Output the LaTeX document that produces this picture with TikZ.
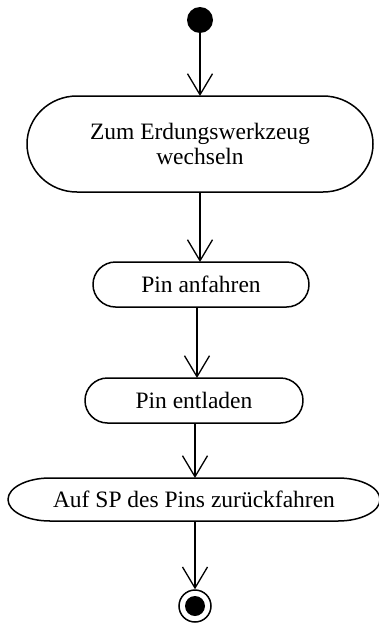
\documentclass[tikz,border=0pt]{standalone}
\usepackage{fontspec}
\setmainfont{Liberation Serif}
\usetikzlibrary{arrows.meta}

% Activity box outline with elliptical ends: node name, x radius, y radius
\newcommand\actoutline[3]{%
  \draw[actline] ([xshift=#2]#1.north west) -- ([xshift=-#2]#1.north east)
    arc[start angle=90,end angle=-90,x radius=#2,y radius=#3]
    -- ([xshift=#2]#1.south west)
    arc[start angle=270,end angle=90,x radius=#2,y radius=#3] -- cycle;}

\begin{document}
\begin{tikzpicture}[x=1pt,y=-1pt,
  actline/.style={line width=1.5pt,line join=round},
  act/.style={inner sep=0pt,outer sep=0pt,align=center,
    font=\fontsize{23.5}{25}\selectfont},
  flow/.style={line width=1.3pt,-{Straight Barb[length=21pt,width=25pt,line width=1.3pt]}},
  startdot/.style={circle,fill=black,inner sep=0pt,minimum size=26pt},
  endring/.style={circle,draw,line width=1.5pt,inner sep=0pt,minimum size=32pt},
  enddot/.style={circle,fill=black,inner sep=0pt,minimum size=20pt}]
  \useasboundingbox (0,0) rectangle (378,624);

  \node[startdot] (start) at (200,20) {};

  \node[act,minimum width=346pt,minimum height=96pt] (a1) at (200,144)
    {Zum Erdungswerkzeug\\wechseln};
  \actoutline{a1}{50pt}{48pt}

  \node[act,minimum width=216pt,minimum height=45pt] (a2) at (201,284.5) {Pin anfahren};
  \actoutline{a2}{22.5pt}{22.5pt}

  \node[act,minimum width=218pt,minimum height=45pt] (a3) at (194,400.5) {Pin entladen};
  \actoutline{a3}{22.5pt}{22.5pt}

  \node[act,minimum width=372pt,minimum height=43pt] (a4) at (194,499.5)
    {Auf SP des Pins zurückfahren};
  \actoutline{a4}{42pt}{21.5pt}

  \node[endring] (end) at (195,606) {};
  \node[enddot] (endin) at (end.center) {};

  \draw[flow] (start) -- (start |- a1.north);
  \draw[flow] (a1.south -| 200,0) -- (200,0 |- a2.north);
  \draw[flow] (a2.south -| 197,0) -- (197,0 |- a3.north);
  \draw[flow] (a3.south -| 195,0) -- (195,0 |- a4.north);
  \draw[flow] (a4.south -| end.north) -- (end.north);
\end{tikzpicture}
\end{document}
